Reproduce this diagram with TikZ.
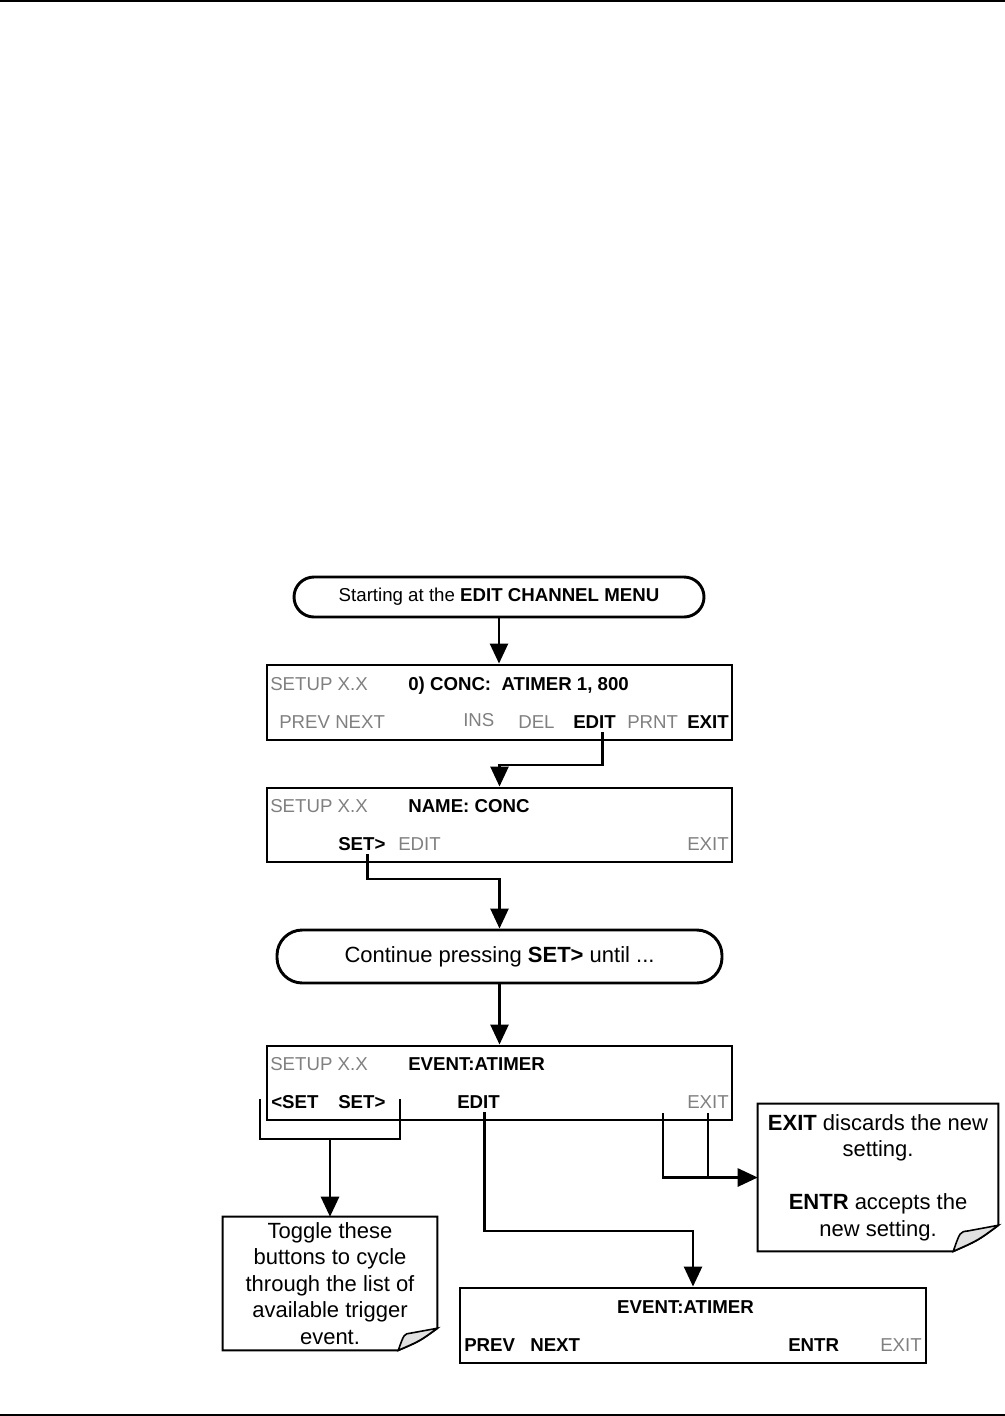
\documentclass[tikz,border=0pt]{standalone}
\usepackage{fontspec}
\setmainfont{Liberation Sans}
\usetikzlibrary{arrows.meta, positioning, calc}
\definecolor{keygray}{RGB}{128,128,128}
\definecolor{foldgray}{RGB}{225,225,225}
\newcommand{\pxl}{0.75pt}
\tikzset{x = 0.75pt, y = -0.75pt,
	 >= {Triangle[length = 15pt, width = 13.5pt]},
	 terminal/.style = {draw, line width = 2.2pt,
			    rounded corners = 15pt, inner sep = 0pt,
			    font = \fontsize{14}{17}\selectfont},
	 screen/.style = {draw, line width = 2.2pt, inner sep = 0pt,
			  minimum width = 465*\pxl, minimum height = 75*\pxl},
	 key/.style = {anchor = base west, inner sep = 0pt,
		       font = \fontsize{14}{17}\selectfont},
	 dim/.style = {key, text = keygray},
	 hot/.style = {key, font = \fontsize{14}{17}\selectfont\bfseries},
	 note/.style = {inner sep = 0pt, align = center,
			font = \fontsize{16.5}{19.8}\selectfont},
	 flow/.style = {line width = 2pt, ->},
	 wire/.style = {line width = 2pt}}
% note outline with a curled corner: node, fold width, fold height (px)
\newcommand{\notebox}[3]{%
  \draw[line width = 1.5pt] (#1.north west) -- (#1.north east)
    -- ([yshift = #3*\pxl]#1.south east)
    .. controls ([xshift = -0.45*#2*\pxl, yshift = 0.42*#3*\pxl]#1.south east)
    .. ([xshift = -#2*\pxl]#1.south east) -- (#1.south west) -- cycle;
  \filldraw[fill = foldgray, line width = 1.2pt]
    ([xshift = -#2*\pxl]#1.south east)
    .. controls ([xshift = -0.85*#2*\pxl, yshift = 0.75*#3*\pxl]#1.south east)
    .. ([xshift = -0.68*#2*\pxl, yshift = 0.78*#3*\pxl]#1.south east)
    -- ([yshift = #3*\pxl]#1.south east)
    .. controls ([xshift = -0.45*#2*\pxl, yshift = 0.42*#3*\pxl]#1.south east)
    .. cycle;}

\begin{document}
\begin{tikzpicture}
      \useasboundingbox (0,0) rectangle (1005,1416);
      \draw[line width = 1.5pt] (0,1) -- (1005,1);
      \draw[line width = 1.5pt] (0,1414.5) -- (1005,1414.5);

      % start
      \node [terminal, minimum width = 410*\pxl, minimum height = 40*\pxl]
	    (start) at (499,597) {Starting at the \textbf{EDIT CHANNEL MENU}};

      % channel menu
      \node [screen] (menu) at (499.5,702.5) {};
      \node [dim] (setup1) at (270,690) {SETUP X.X};
      \node [hot] (conc) at (408,690) {0) CONC:\ \ ATIMER 1, 800};
      \node [dim] (prev1) at (279,728) {PREV NEXT};
      \node [dim] (ins1) at (463,726) {INS};
      \node [dim] (del1) at (518,728) {DEL};
      \node [hot] (edit1) at (573,728) {EDIT};
      \node [dim] (prnt1) at (627,728) {PRNT};
      \node [hot] (exit1) at (687,728) {EXIT};

      % name
      \node [screen, minimum height = 74*\pxl] (name) at (499.5,825) {};
      \node [dim] (setup2) at (270,812) {SETUP X.X};
      \node [hot] (conc2) at (408,812) {NAME: CONC};
      \node [hot] (set2) at (338,850) {SET>};
      \node [dim] (edit2) at (398,850) {EDIT};
      \node [dim] (exit2) at (687,850) {EXIT};

      % continue
      \node [terminal, rounded corners = 19pt, minimum width = 445*\pxl,
	     minimum height = 53*\pxl, font = \fontsize{16.5}{20}\selectfont]
	    (until) at (499.5,956.5) {Continue pressing \textbf{SET>} until ...};

      % event
      \node [screen, minimum height = 74*\pxl] (event) at (499.5,1083) {};
      \node [dim] (setup3) at (270,1070) {SETUP X.X};
      \node [hot] (atimer3) at (408,1070) {EVENT:ATIMER};
      \node [hot] (back3) at (271,1108) {<SET};
      \node [hot] (set3) at (338,1108) {SET>};
      \node [hot] (edit3) at (457,1108) {EDIT};
      \node [dim] (exit3) at (687,1108) {EXIT};

      % trigger list
      \node [screen, minimum width = 466*\pxl] (trigger) at (693,1325.5) {};
      \node [hot, anchor = base] (atimer4) at (685.5,1313) {EVENT:ATIMER};
      \node [hot] (prev4) at (464,1351) {PREV};
      \node [hot] (next4) at (530,1351) {NEXT};
      \node [hot] (entr4) at (788,1351) {ENTR};
      \node [dim] (exit4) at (880,1351) {EXIT};

      % notes
      \node [note, minimum width = 240*\pxl, minimum height = 147*\pxl]
	    (keep) at (878,1177.5)
	    {\textbf{EXIT} discards the new\\ setting.\\[19.8pt]
	     \textbf{ENTR} accepts the\\ new setting.};
      \notebox{keep}{45}{26}
      \node [note, minimum width = 214*\pxl, minimum height = 133*\pxl]
	    (toggle) at (330,1283.5)
	    {Toggle these\\ buttons to cycle\\ through the list of\\
	     available trigger\\ event.};
      \notebox{toggle}{39}{22}

      % connectors
      \coordinate (j1) at (499.5,765);
      \coordinate (j2) at (499.5,879);
      \coordinate (lsel) at (260,1099);
      \coordinate (rsel) at (400,1099);
      \coordinate (jsel) at (330,1139);
      \coordinate (j3) at (693,1231);
      \coordinate (x1) at (663,1113);
      \coordinate (x2) at ([yshift = -5*\pxl]exit3.south);
      \draw[flow] (start.south) -- (start.south |- menu.north);
      \draw[flow] ([xshift = 8*\pxl, yshift = -4*\pxl]edit1.south) |- (j1)
		  -- (name.north);
      \draw[flow] ([xshift = 5.5*\pxl, yshift = -4*\pxl]set2.south) |- (j2)
		  -- (until.north);
      \draw[flow] (until.south) -- (event.north);
      \draw[wire] (lsel) |- (jsel) -| (rsel);
      \draw[flow] (jsel) -- (toggle.north);
      \draw[flow] ([xshift = 6*\pxl, yshift = -4*\pxl]edit3.south) |- (j3)
		  -- (trigger.north);
      \draw[flow] (x1) |- (keep.west);
      \draw[wire] (x2) -- (x2 |- keep.west);
\end{tikzpicture}
\end{document}
